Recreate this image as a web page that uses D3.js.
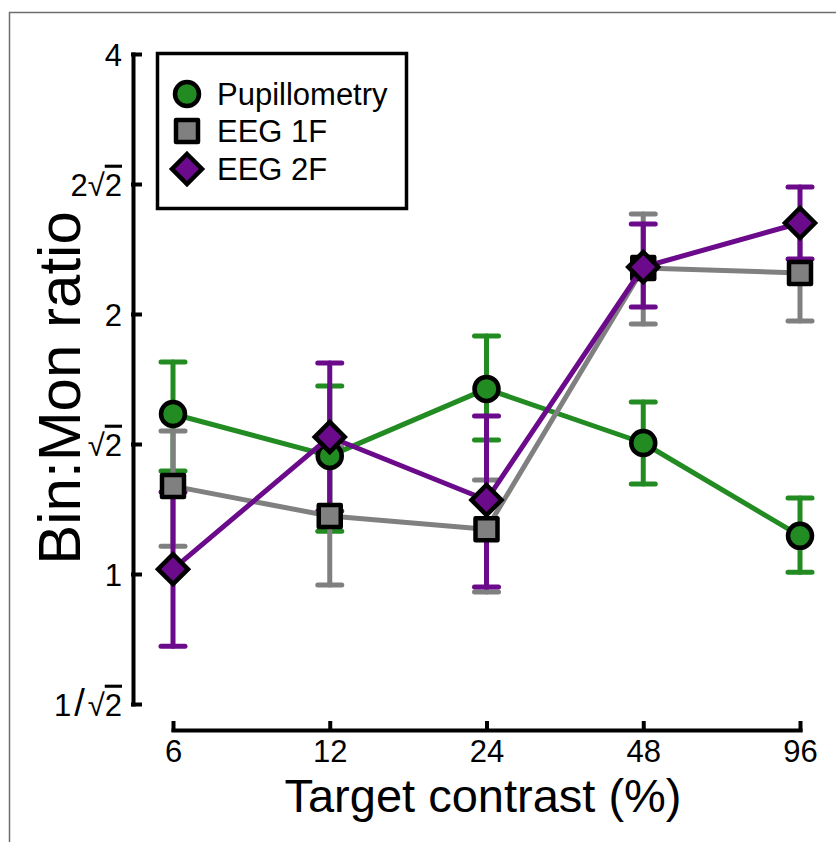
<!DOCTYPE html>
<html>
<head>
<meta charset="utf-8">
<script src="https://cdn.jsdelivr.net/npm/d3@7"></script>
<style>
  html, body { margin: 0; padding: 0; background: #fff; }
  svg { display: block; font-family: "Liberation Sans", Arial, Helvetica, sans-serif; }
</style>
</head>
<body>
<svg id="chart" width="836" height="842"></svg>
<script>
// ---- data ----
const contrasts = [6, 12, 24, 48, 96];
const xTickLabels = ["6", "12", "24", "48", "96"];
const yTickValues = [Math.SQRT1_2, 1, Math.SQRT2, 2, 2 * Math.SQRT2, 4];
const yTickLabels = ["1/√2", "1", "√2", "2", "2√2", "4"];

const seriesNames = ["Pupillometry", "EEG 1F", "EEG 2F"];
const seriesColors = ["#228B22", "#808080", "#6B0A8A"];
const seriesShapes = ["circle", "square", "diamond"];

const pupilMean  = [1.532, 1.370, 1.638, 1.418, 1.107];
const pupilLow   = [1.316, 1.121, 1.429, 1.271, 1.005];
const pupilHigh  = [1.760, 1.651, 1.886, 1.582, 1.225];

const eeg1fMean  = [1.264, 1.167, 1.127, 2.261, 2.231];
const eeg1fLow   = [1.077, 0.971, 0.953, 1.947, 1.963];
const eeg1fHigh  = [1.464, 1.403, 1.285, 2.611, 2.535];

const eeg2fMean  = [1.013, 1.441, 1.218, 2.267, 2.549];
const eeg2fLow   = [0.825, 1.183, 0.966, 2.038, 2.316];
const eeg2fHigh  = [1.244, 1.755, 1.524, 2.542, 2.806];

const xLabel = "Target contrast (%)";
const yLabel = "Bin:Mon ratio";

// ---- build series table ----
const series = [
  { mean: pupilMean, low: pupilLow, high: pupilHigh },
  { mean: eeg1fMean, low: eeg1fLow, high: eeg1fHigh },
  { mean: eeg2fMean, low: eeg2fLow, high: eeg2fHigh }
].map((s, i) => ({
  name: seriesNames[i], color: seriesColors[i], shape: seriesShapes[i],
  points: contrasts.map((c, j) => ({ x: c, y: s.mean[j], lo: s.low[j], hi: s.high[j] }))
}));

const svg = d3.select("#chart");

// outer frame (partial, as in reference)
svg.append("path")
  .attr("d", "M9.5,842 V12.5 H836")
  .attr("fill", "none").attr("stroke", "#6e6e6e").attr("stroke-width", 1.5);

// ---- scales ----
const x = d3.scaleLog().base(2).domain([6, 96]).range([173, 800]);
const y = d3.scaleLog().base(2).domain([Math.SQRT1_2, 4]).range([704, 54]);

// ---- axes ----
const yAxis = d3.axisLeft(y)
  .tickValues(yTickValues)
  .tickFormat((d, i) => yTickLabels[i])
  .tickSizeInner(-7).tickSizeOuter(0).tickPadding(11);

const gy = svg.append("g").attr("transform", "translate(133,0)").call(yAxis);
gy.select(".domain").attr("stroke", "#000").attr("stroke-width", 4).attr("stroke-linecap", "square");
gy.selectAll(".tick line").attr("stroke", "#000").attr("stroke-width", 4).attr("stroke-linecap", "square");
gy.selectAll(".tick text")
  .attr("fill", "#000").attr("font-size", 31).attr("dy", "0.36em")
  .each(function (d, i) {
    const lbl = yTickLabels[i];
    const t = d3.select(this);
    const k = lbl.indexOf("√");
    if (k < 0) return;
    t.text(null);
    const pre = lbl.slice(0, k);
    const s = pre.indexOf("/");
    if (s >= 0) {
      t.append("tspan").text(pre.slice(0, s));
      t.append("tspan").attr("dx", 3).attr("font-size", 38).text("/");
      t.append("tspan").attr("dx", 3).text("√");
    } else {
      t.append("tspan").text(pre + "√");
    }
    t.append("tspan").text(lbl.slice(k + 1)).style("text-decoration", "overline");
  });

const xAxis = d3.axisBottom(x)
  .tickValues(contrasts)
  .tickFormat((d, i) => xTickLabels[i])
  .tickSizeInner(-7).tickSizeOuter(0).tickPadding(10);

const gx = svg.append("g").attr("transform", "translate(0,730)").call(xAxis);
gx.select(".domain").attr("stroke", "#000").attr("stroke-width", 4).attr("stroke-linecap", "square");
gx.selectAll(".tick line").attr("stroke", "#000").attr("stroke-width", 4).attr("stroke-linecap", "square");
gx.selectAll(".tick text").attr("fill", "#000").attr("font-size", 31);

// axis titles
svg.append("text")
  .attr("x", 483).attr("y", 812)
  .attr("text-anchor", "middle").attr("font-size", 47).attr("fill", "#000")
  .text(xLabel);

svg.append("text")
  .attr("transform", "translate(80,388) rotate(-90)")
  .attr("text-anchor", "middle").attr("font-size", 60).attr("fill", "#000")
  .text(yLabel);

// ---- marker shapes ----
function shapePath(shape) {
  if (shape === "circle") return "M12,0 A12,12 0 1,1 -12,0 A12,12 0 1,1 12,0 Z";
  if (shape === "square") return "M-11,-11 H11 V11 H-11 Z";
  return "M0,-15 L15,0 L0,15 L-15,0 Z";
}

// ---- error bars (all series first) ----
const capHalf = 12;
series.forEach(s => {
  const g = svg.append("g").attr("stroke", s.color).attr("stroke-width", 5)
    .attr("stroke-linecap", "round").attr("fill", "none");
  g.selectAll("line.v").data(s.points).join("line").attr("class", "v")
    .attr("x1", d => x(d.x)).attr("x2", d => x(d.x))
    .attr("y1", d => y(d.lo)).attr("y2", d => y(d.hi));
  g.selectAll("line.top").data(s.points).join("line").attr("class", "top")
    .attr("x1", d => x(d.x) - capHalf).attr("x2", d => x(d.x) + capHalf)
    .attr("y1", d => y(d.hi)).attr("y2", d => y(d.hi));
  g.selectAll("line.bot").data(s.points).join("line").attr("class", "bot")
    .attr("x1", d => x(d.x) - capHalf).attr("x2", d => x(d.x) + capHalf)
    .attr("y1", d => y(d.lo)).attr("y2", d => y(d.lo));
});

// ---- lines + markers ----
const line = d3.line().x(d => x(d.x)).y(d => y(d.y));
series.forEach(s => {
  svg.append("path").datum(s.points)
    .attr("d", line).attr("fill", "none")
    .attr("stroke", s.color).attr("stroke-width", 5).attr("stroke-linejoin", "round");
  svg.append("g").selectAll("path").data(s.points).join("path")
    .attr("transform", d => `translate(${x(d.x)},${y(d.y)})`)
    .attr("d", shapePath(s.shape))
    .attr("fill", s.color).attr("stroke", "#000").attr("stroke-width", 4.5)
    .attr("stroke-linejoin", s.shape === "diamond" ? "miter" : "round");
});

// ---- legend ----
const lg = svg.append("g");
lg.append("rect").attr("x", 157.5).attr("y", 53.5).attr("width", 249).attr("height", 155)
  .attr("fill", "#fff").attr("stroke", "#000").attr("stroke-width", 3.5);
const legendY = [94, 131, 169];
series.forEach((s, i) => {
  lg.append("path")
    .attr("transform", `translate(187,${legendY[i]})`)
    .attr("d", shapePath(s.shape))
    .attr("fill", s.color).attr("stroke", "#000").attr("stroke-width", 4.5)
    .attr("stroke-linejoin", s.shape === "diamond" ? "miter" : "round");
  lg.append("text")
    .attr("x", 217).attr("y", legendY[i]).attr("dy", "0.36em")
    .attr("font-size", 31).attr("fill", "#000")
    .text(s.name);
});
</script>
</body>
</html>
